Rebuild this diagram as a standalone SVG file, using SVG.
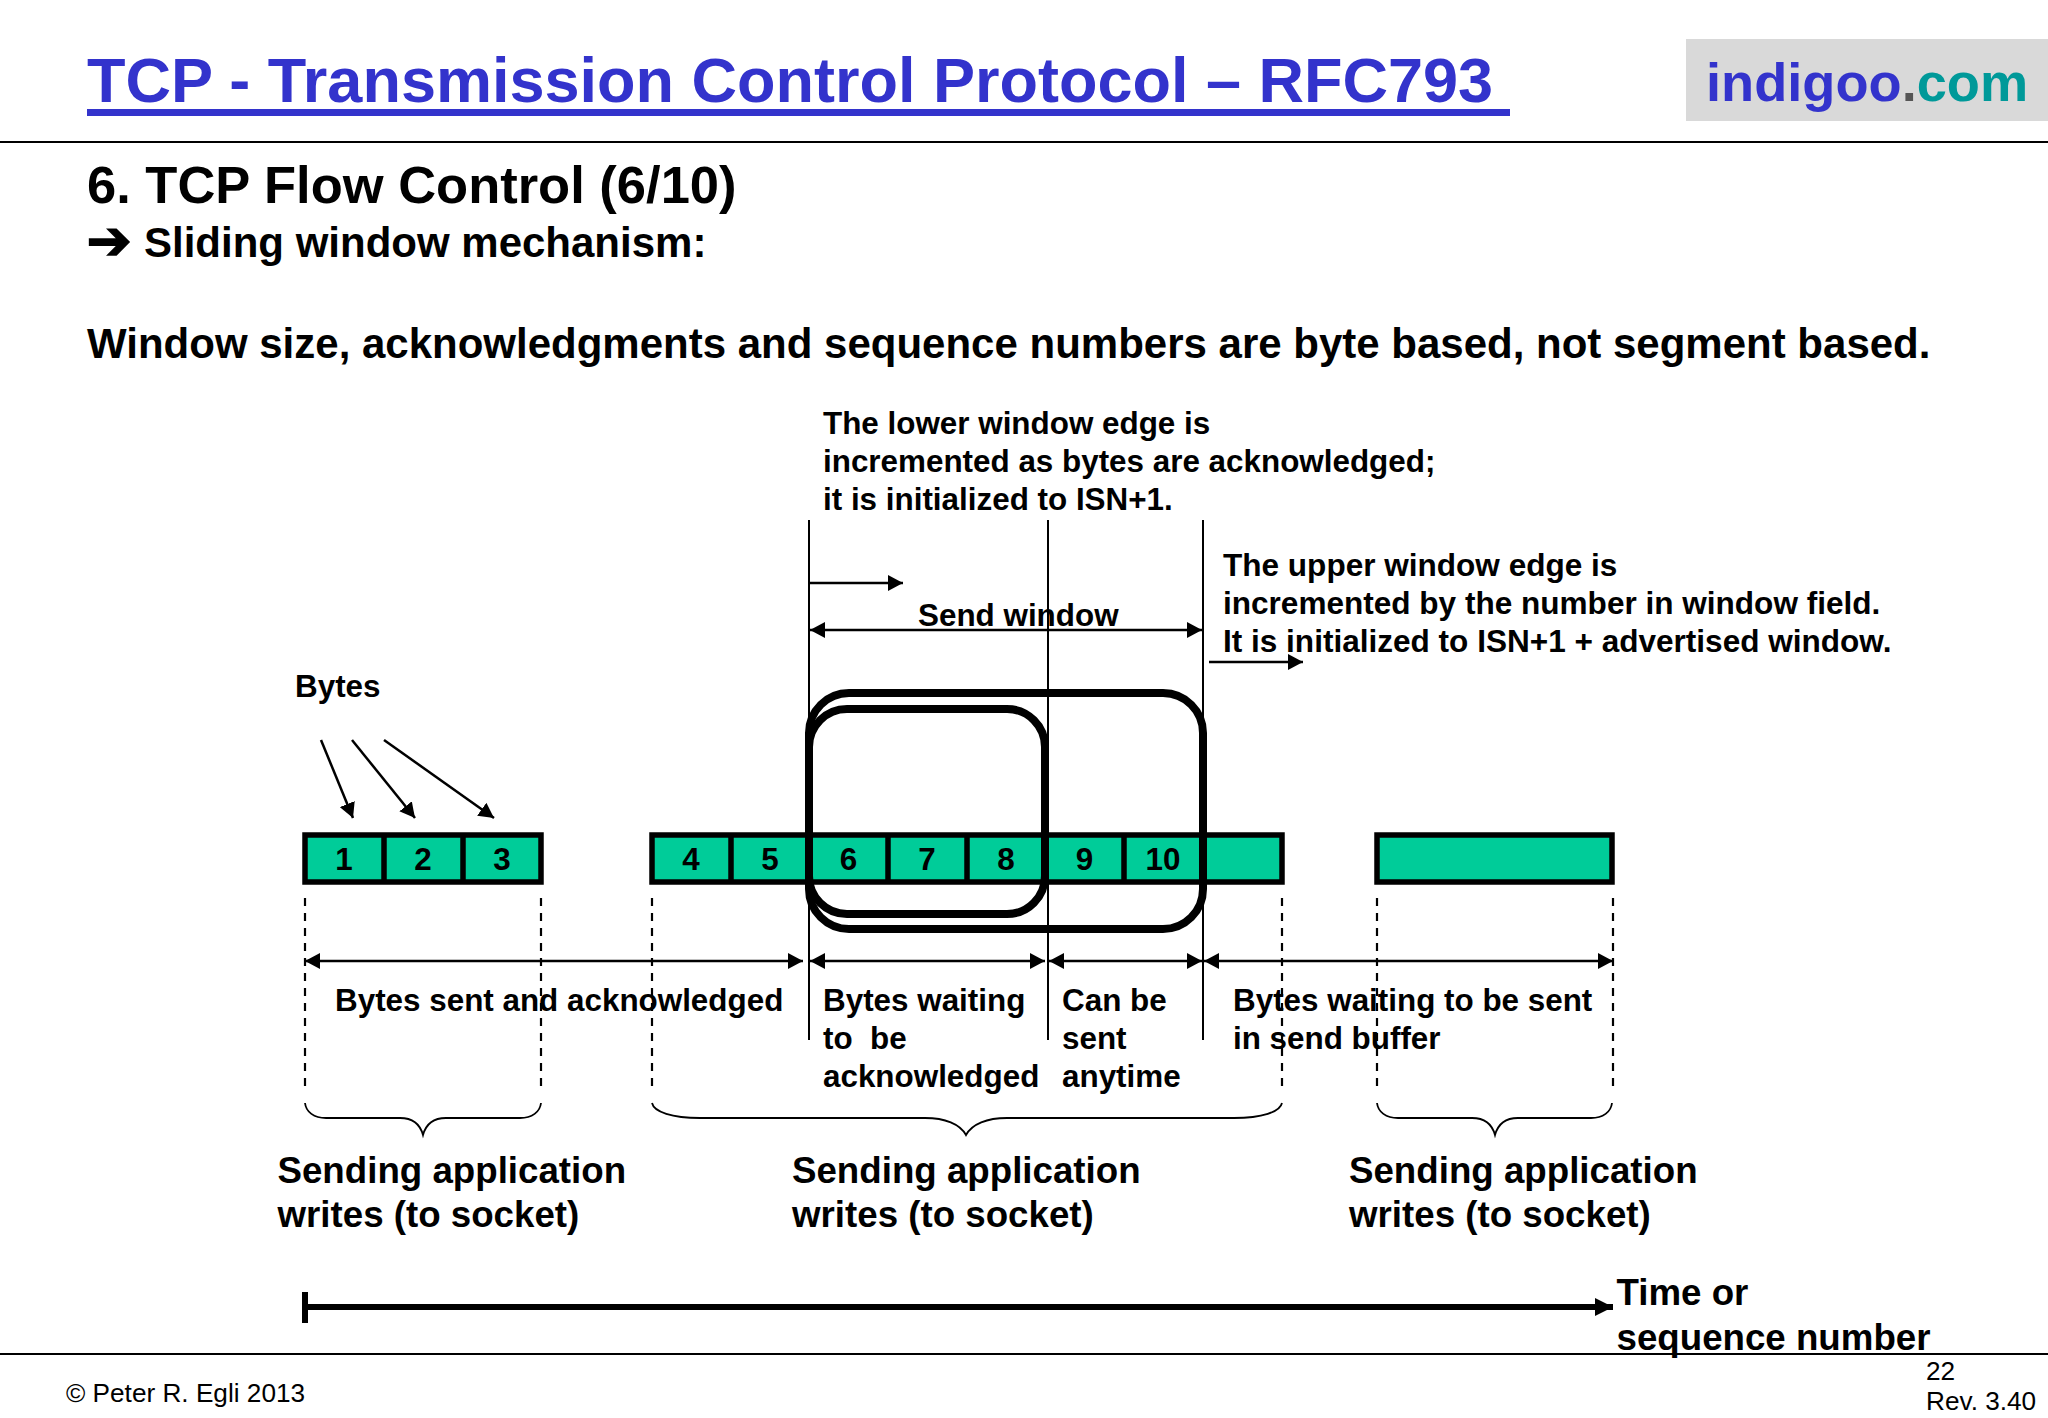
<svg xmlns="http://www.w3.org/2000/svg" width="2048" height="1418" viewBox="0 0 2048 1418">
<style>
text{font-family:"Liberation Sans",Arial,sans-serif;font-weight:700;fill:#000}
.t31{font-size:31.4px}
.t32{font-size:31.55px}
.t36{font-size:36.7px}
.t42{font-size:42px}
.reg{font-weight:400;font-size:26.2px}
.num{font-size:31.4px;text-anchor:middle}
.cell{fill:#00cc99;stroke:#000;stroke-width:5.5}
.div{stroke:#000;stroke-width:5.5}
.thin{stroke:#000;stroke-width:2;fill:none}
.dash{stroke:#000;stroke-width:2.2;fill:none;stroke-dasharray:8 7}
.arr{stroke:#000;stroke-width:2.5;fill:none}
.brace{stroke:#000;stroke-width:1.8;fill:none}
.win{stroke:#000;stroke-width:8;fill:none}
</style>
<defs>
<marker id="head" markerUnits="userSpaceOnUse" markerWidth="16" markerHeight="16" refX="15" refY="8" orient="auto-start-reverse"><path d="M0 0L15 8L0 16Z" fill="#000"/></marker>
<marker id="headBig" markerUnits="userSpaceOnUse" markerWidth="18" markerHeight="18" refX="18" refY="9" orient="auto"><path d="M0 0L18 9L0 18Z" fill="#000"/></marker>
</defs>
<rect width="2048" height="1418" fill="#fff"/>
<g id="header">
<text x="87" y="102" style="font-size:63px;fill:#3333cc">TCP - Transmission Control Protocol – RFC793</text>
<rect x="87" y="109" width="1423" height="7" fill="#3333cc"/>
<line x1="0" y1="142" x2="2048" y2="142" stroke="#000" stroke-width="2"/>
<rect x="1686" y="39" width="362" height="82" fill="#d9d9d9"/>
<text x="1706" y="101" style="font-size:54.2px;fill:#3333cc">indigoo<tspan style="fill:#555">.</tspan><tspan style="fill:#009999">com</tspan></text>
</g>
<g id="headings">
<text x="87" y="203" style="font-size:52.5px">6. TCP Flow Control (6/10)</text>
<text x="86.500" y="259" style="font-family:'DejaVu Sans',sans-serif;font-size:54px;stroke:#000;stroke-width:1.5">➔</text>
<text x="144" y="257" class="t42">Sliding window mechanism:</text>
<text x="87" y="358" class="t42">Window size, acknowledgments and sequence numbers are byte based, not segment based.</text>
</g>
<g id="bar1">
<rect class="cell" x="305" y="835" width="236" height="47"/>
<line class="div" x1="384" y1="835" x2="384" y2="882"/>
<line class="div" x1="463" y1="835" x2="463" y2="882"/>
<text class="num" x="344" y="870">1</text><text class="num" x="423" y="870">2</text><text class="num" x="502" y="870">3</text>
</g>
<g id="bar2">
<rect class="cell" x="652" y="835" width="630" height="47"/>
<line class="div" x1="731" y1="835" x2="731" y2="882"/>
<line class="div" x1="809" y1="835" x2="809" y2="882"/>
<line class="div" x1="888" y1="835" x2="888" y2="882"/>
<line class="div" x1="967" y1="835" x2="967" y2="882"/>
<line class="div" x1="1045" y1="835" x2="1045" y2="882"/>
<line class="div" x1="1124" y1="835" x2="1124" y2="882"/>
<line class="div" x1="1203" y1="835" x2="1203" y2="882"/>
<text class="num" x="691" y="870">4</text><text class="num" x="770" y="870">5</text><text class="num" x="848.500" y="870">6</text><text class="num" x="927" y="870">7</text><text class="num" x="1006" y="870">8</text><text class="num" x="1084.500" y="870">9</text><text class="num" x="1163" y="870">10</text>
</g>
<g id="bar3"><rect class="cell" x="1377" y="835" width="235" height="47"/></g>
<g id="windows">
<rect class="win" x="809" y="693" width="394" height="236" rx="40" ry="40"/>
<rect class="win" x="809" y="709" width="236" height="205" rx="38" ry="38"/>
</g>
<g id="connectors">
<line class="thin" x1="809" y1="520" x2="809" y2="1040"/>
<line class="thin" x1="1048" y1="520" x2="1048" y2="1040"/>
<line class="thin" x1="1203" y1="520" x2="1203" y2="1040"/>
<line class="arr" x1="809" y1="583" x2="903" y2="583" marker-end="url(#head)"/>
<line class="arr" x1="810" y1="630" x2="1202" y2="630" marker-start="url(#head)" marker-end="url(#head)"/>
<line class="arr" x1="1209" y1="662" x2="1303" y2="662" marker-end="url(#head)"/>
<line class="arr" x1="321" y1="740" x2="353" y2="818" marker-end="url(#head)"/>
<line class="arr" x1="352" y1="740" x2="415" y2="818" marker-end="url(#head)"/>
<line class="arr" x1="384" y1="740" x2="494" y2="818" marker-end="url(#head)"/>
<line class="dash" x1="305" y1="898" x2="305" y2="1086"/>
<line class="dash" x1="541" y1="898" x2="541" y2="1086"/>
<line class="dash" x1="652" y1="898" x2="652" y2="1086"/>
<line class="dash" x1="1282" y1="898" x2="1282" y2="1086"/>
<line class="dash" x1="1377" y1="898" x2="1377" y2="1086"/>
<line class="dash" x1="1613" y1="898" x2="1613" y2="1086"/>
<line class="arr" x1="305" y1="961" x2="803" y2="961" marker-start="url(#head)" marker-end="url(#head)"/>
<line class="arr" x1="810" y1="961" x2="1045" y2="961" marker-start="url(#head)" marker-end="url(#head)"/>
<line class="arr" x1="1049" y1="961" x2="1202" y2="961" marker-start="url(#head)" marker-end="url(#head)"/>
<line class="arr" x1="1204" y1="961" x2="1613" y2="961" marker-start="url(#head)" marker-end="url(#head)"/>
<path class="brace" d="M305 1103C306 1112 314 1118 326 1118H400C412 1118 420 1124 423 1135C426 1124 434 1118 446 1118H520C532 1118 540 1112 541 1103"/>
<path class="brace" d="M652 1103C654 1112 672 1118 700 1118H925C945 1118 960 1124 966 1135C972 1124 987 1118 1007 1118H1234C1262 1118 1280 1112 1282 1103"/>
<path class="brace" d="M1377 1103C1378 1112 1386 1118 1398 1118H1472C1484 1118 1492 1124 1495 1135C1498 1124 1506 1118 1518 1118H1591C1603 1118 1611 1112 1612 1103"/>
<line x1="305" y1="1307" x2="1613" y2="1307" stroke="#000" stroke-width="6" marker-end="url(#headBig)"/>
<line x1="305" y1="1292" x2="305" y2="1323" stroke="#000" stroke-width="6"/>
</g>
<g id="labels">
<text class="t31" x="823" y="434">The lower window edge is</text>
<text class="t31" x="823" y="472">incremented as bytes are acknowledged;</text>
<text class="t31" x="823" y="510">it is initialized to ISN+1.</text>
<text class="t32" x="1223" y="576">The upper window edge is</text>
<text class="t32" x="1223" y="614">incremented by the number in window field.</text>
<text class="t32" x="1223" y="652">It is initialized to ISN+1 + advertised window.</text>
<text class="t31" x="918" y="626">Send window</text>
<text class="t31" x="295" y="697">Bytes</text>
<text class="t31" x="335" y="1011">Bytes sent and acknowledged</text>
<text class="t31" x="823" y="1011">Bytes waiting</text>
<text class="t31" x="823" y="1049" xml:space="preserve">to  be</text>
<text class="t31" x="823" y="1087">acknowledged</text>
<text class="t31" x="1062" y="1011">Can be</text>
<text class="t31" x="1062" y="1049">sent</text>
<text class="t31" x="1062" y="1087">anytime</text>
<text class="t31" x="1233" y="1011">Bytes waiting to be sent</text>
<text class="t31" x="1233" y="1049">in send buffer</text>
<text class="t36" x="277.500" y="1183">Sending application</text>
<text class="t36" x="277.500" y="1227">writes (to socket)</text>
<text class="t36" x="792" y="1183">Sending application</text>
<text class="t36" x="792" y="1227">writes (to socket)</text>
<text class="t36" x="1349" y="1183">Sending application</text>
<text class="t36" x="1349" y="1227">writes (to socket)</text>
<text class="t36" x="1616.500" y="1305">Time or</text>
<text class="t36" x="1616.500" y="1350">sequence number</text>
</g>
<g id="footer">
<line x1="0" y1="1354" x2="2048" y2="1354" stroke="#000" stroke-width="2"/>
<text class="reg" x="66" y="1402">© Peter R. Egli 2013</text>
<text class="reg" x="1926" y="1380">22</text>
<text class="reg" x="1926" y="1410">Rev. 3.40</text>
</g>
</svg>
